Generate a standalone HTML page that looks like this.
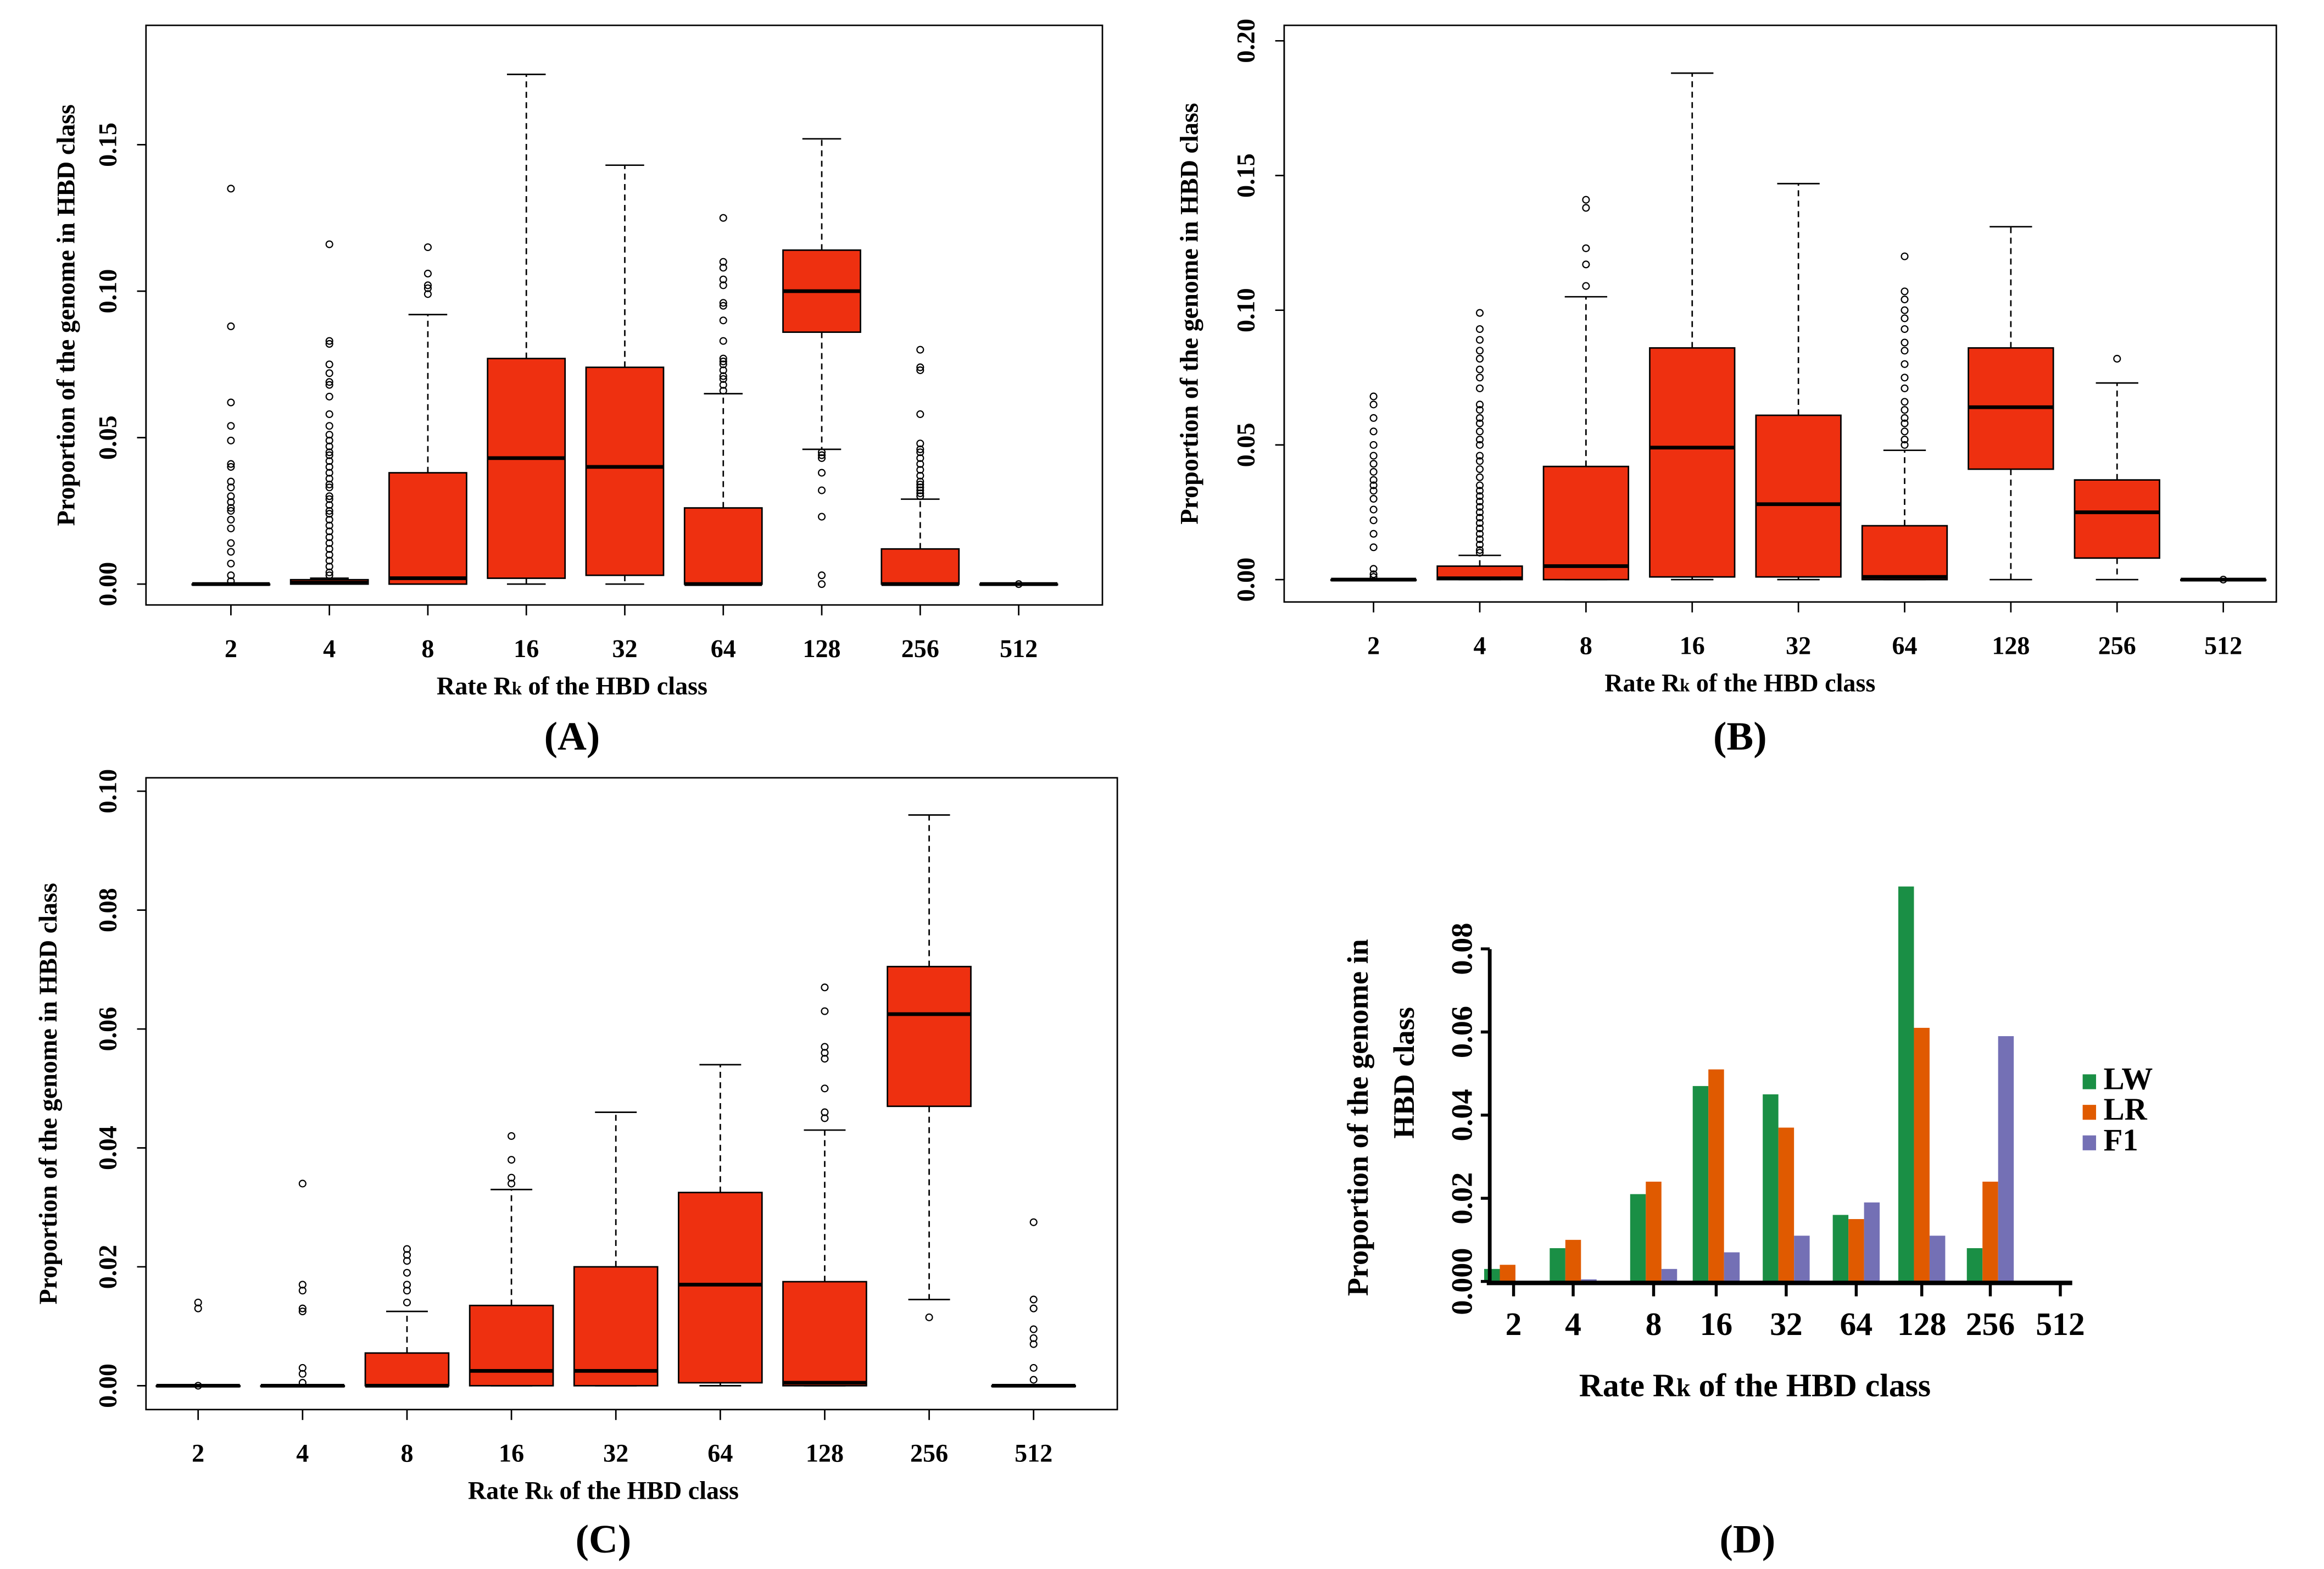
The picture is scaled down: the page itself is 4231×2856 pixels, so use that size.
<!DOCTYPE html>
<html><head><meta charset="utf-8"><style>
html,body{margin:0;padding:0;background:#fff;}
svg{display:block;}
text{font-family:"Liberation Serif",serif;font-weight:bold;fill:#000;}
</style></head><body>
<svg id="fig" width="4231" height="2856" viewBox="0 0 1560 1053" preserveAspectRatio="none" xmlns="http://www.w3.org/2000/svg"></svg>
<script>
const categories = ["2","4","8","16","32","64","128","256","512"];
// Panel A: [lo, q1, med, q3, hi]
const statsA = [[0,0,0,0,0],[0,0,0.0005,0.0015,0.002],[0,0,0.002,0.038,0.092],[0,0.002,0.043,0.077,0.174],[0,0.003,0.040,0.074,0.143],[0,0,0,0.026,0.065],[0.046,0.086,0.100,0.114,0.152],[0,0,0,0.012,0.029],[0,0,0,0,0]];
const outA = [[0.135,0.088,0.062,0.054,0.049,0.041,0.040,0.035,0.033,0.030,0.028,0.026,0.025,0.022,0.019,0.014,0.011,0.007,0.003,0.001],
[0.116,0.083,0.082,0.075,0.072,0.069,0.068,0.064,0.058,0.054,0.051,0.049,0.047,0.045,0.044,0.042,0.040,0.038,0.036,0.034,0.033,0.030,0.029,0.027,0.025,0.024,0.022,0.020,0.018,0.016,0.014,0.012,0.010,0.008,0.006,0.004,0.003],
[0.115,0.106,0.102,0.101,0.099],[],[],[0.125,0.110,0.108,0.104,0.102,0.096,0.095,0.090,0.083,0.077,0.076,0.075,0.073,0.071,0.070,0.068,0.066],
[0.045,0.044,0.043,0.038,0.032,0.023,0.003,0],[0.080,0.074,0.073,0.058,0.048,0.046,0.045,0.043,0.041,0.039,0.037,0.035,0.034,0.033,0.032,0.031,0.030],[0]];
const ticksA = [0,0.05,0.10,0.15];
const tickLabelsA = ["0.00","0.05","0.10","0.15"];
// Panel B
const statsB = [[0,0,0,0,0],[0,0,0.0005,0.005,0.009],[0,0,0.005,0.042,0.105],[0,0.001,0.049,0.086,0.188],[0,0.001,0.028,0.061,0.147],[0,0,0.001,0.020,0.048],[0,0.041,0.064,0.086,0.131],[0,0.008,0.025,0.037,0.073],[0,0,0,0,0]];
const outB = [[0.068,0.065,0.060,0.055,0.050,0.046,0.043,0.040,0.037,0.035,0.033,0.030,0.026,0.022,0.017,0.012,0.004,0.002,0.001],
[0.099,0.093,0.089,0.085,0.082,0.078,0.075,0.071,0.065,0.063,0.060,0.058,0.055,0.052,0.050,0.046,0.044,0.041,0.038,0.035,0.033,0.031,0.029,0.027,0.025,0.023,0.021,0.019,0.017,0.015,0.013,0.011,0.010],
[0.141,0.138,0.123,0.117,0.109],[],[],[0.120,0.107,0.104,0.100,0.097,0.093,0.088,0.085,0.080,0.075,0.071,0.066,0.063,0.060,0.058,0.055,0.052,0.050],[],[0.082],[0]];
const ticksB = [0,0.05,0.10,0.15,0.20];
const tickLabelsB = ["0.00","0.05","0.10","0.15","0.20"];
// Panel C
const statsC = [[0,0,0,0,0],[0,0,0,0,0],[0,0,0,0.0055,0.0125],[0,0,0.0025,0.0135,0.033],[0,0,0.0025,0.020,0.046],[0,0.0005,0.017,0.0325,0.054],[0,0,0.0005,0.0175,0.043],[0.0145,0.047,0.0625,0.0705,0.096],[0,0,0,0,0]];
const outC = [[0.014,0.013,0],[0.034,0.017,0.016,0.013,0.0125,0.003,0.002,0.0005],[0.023,0.022,0.021,0.019,0.017,0.016,0.014],[0.042,0.038,0.035,0.034],[],[],[0.067,0.063,0.057,0.056,0.055,0.050,0.046,0.045],[0.0115],[0.0275,0.0145,0.013,0.0095,0.008,0.007,0.003,0.001]];
const ticksC = [0,0.02,0.04,0.06,0.08,0.10];
const tickLabelsC = ["0.00","0.02","0.04","0.06","0.08","0.10"];
// Panel D
const seriesNames = ["LW","LR","F1"];
const valuesLW = [0.003,0.008,0.021,0.047,0.045,0.016,0.095,0.008,0];
const valuesLR = [0.004,0.010,0.024,0.051,0.037,0.015,0.061,0.024,0];
const valuesF1 = [0,0.0005,0.003,0.007,0.011,0.019,0.011,0.059,0];
const ticksD = [0,0.02,0.04,0.06,0.08];
const tickLabelsD = ["0.000","0.02","0.04","0.06","0.08"];

const NS="http://www.w3.org/2000/svg";
const svg=document.getElementById('fig');
function mk(tag,attrs,parent){const e=document.createElementNS(NS,tag);for(const k in attrs)e.setAttribute(k,attrs[k]);(parent||svg).appendChild(e);return e;}

function boxPanel(cfg,stats,outs,ticks,tickLabels,name){
  const g=mk('g',{});
  
  
  const y=v=>cfg.y0-(v/cfg.unit)*cfg.unitPx;
  const x=i=>cfg.x0+i*cfg.dx;
  const frame=mk('rect',{x:cfg.L,y:cfg.T,width:cfg.R-cfg.L,height:cfg.B-cfg.T,fill:'none',stroke:'#000','stroke-width':1},g);
  
  
  ticks.forEach((t,i)=>{
    mk('line',{x1:cfg.L,x2:cfg.L-6,y1:y(t),y2:y(t),stroke:'#000'},g);
    const tx=mk('text',{x:cfg.L-20,y:y(t),'font-size':17,'text-anchor':'middle',transform:`rotate(-90 ${cfg.L-20} ${y(t)})`},g);
    tx.textContent=tickLabels[i];
    
    
  });
  mk('line',{x1:cfg.L,x2:cfg.L,y1:y(ticks[0]),y2:y(ticks[ticks.length-1]),stroke:'#000'},g);
  categories.forEach((c,i)=>{
    mk('line',{x1:x(i),x2:x(i),y1:cfg.B,y2:cfg.B+7,stroke:'#000'},g);
    const tx=mk('text',{x:x(i),y:cfg.B+35,'font-size':17,'text-anchor':'middle'},g);
    tx.textContent=c;
    
    
    const s=stats[i],w=cfg.bw;
    const bg=mk('g',{},g);
    
    
    mk('line',{x1:x(i),x2:x(i),y1:y(s[3]),y2:y(s[4]),stroke:'#000','stroke-dasharray':'4,3'},bg);
    mk('line',{x1:x(i),x2:x(i),y1:y(s[1]),y2:y(s[0]),stroke:'#000','stroke-dasharray':'4,3'},bg);
    mk('line',{x1:x(i)-w/4,x2:x(i)+w/4,y1:y(s[4]),y2:y(s[4]),stroke:'#000'},bg);
    mk('line',{x1:x(i)-w/4,x2:x(i)+w/4,y1:y(s[0]),y2:y(s[0]),stroke:'#000'},bg);
    mk('rect',{x:x(i)-w/2,y:y(s[3]),width:w,height:Math.max(0.5,y(s[1])-y(s[3])),fill:'#ee3010',stroke:'#000','stroke-width':1},bg);
    mk('line',{x1:x(i)-w/2,x2:x(i)+w/2,y1:y(s[2]),y2:y(s[2]),stroke:'#000','stroke-width':2.5},bg);
    outs[i].forEach(o=>{
      const ci=mk('circle',{cx:x(i),cy:y(o),r:2.2,fill:'none',stroke:'#000','stroke-width':0.8},bg);
      
      
    });
  });
  const yt=mk('text',{x:cfg.ytx,y:(cfg.T+cfg.B)/2,'font-size':17,'text-anchor':'middle',transform:`rotate(-90 ${cfg.ytx} ${(cfg.T+cfg.B)/2})`},g);
  yt.textContent='Proportion of the genome in HBD class';
  
  
  const xt=mk('text',{x:cfg.xtx,y:cfg.B+60,'font-size':17,'text-anchor':'middle'},g);
  xt.innerHTML='Rate R<tspan font-size="12">k</tspan> of the HBD class';
  
  
  const pl=mk('text',{x:cfg.xtx,y:cfg.ply,'font-size':27,'font-weight':'normal','text-anchor':'middle'},g);
  pl.innerHTML='(<tspan font-weight="bold">'+cfg.label+'</tspan>)';
  
  
}
boxPanel({L:98,R:740,T:17,B:406,y0:392,unit:0.05,unitPx:98.3,x0:155,dx:66.1,bw:52,ytx:50,xtx:384,ply:503,label:'A'},statsA,outA,ticksA,tickLabelsA,'panel-a');
boxPanel({L:862,R:1528,T:17,B:404,y0:389,unit:0.05,unitPx:90.4,x0:922,dx:71.3,bw:57,ytx:804,xtx:1168,ply:503,label:'B'},statsB,outB,ticksB,tickLabelsB,'panel-b');
boxPanel({L:98,R:750,T:522,B:946,y0:930,unit:0.02,unitPx:79.8,x0:133,dx:70.1,bw:56,ytx:38,xtx:405,ply:1042,label:'C'},statsC,outC,ticksC,tickLabelsC,'panel-c');

// Panel D
(function(){
  const g=mk('g',{});
  
  
  const y0=860, unitPx=55.8/0.02;
  const y=v=>y0-v*unitPx;
  const xt=[1016,1056,1110,1152,1199,1246,1290,1336,1383];
  const cols=['#1a8f45','#e05a00','#7470b5'];
  const series=[valuesLW,valuesLR,valuesF1];
  const bw=10.5;
  series.forEach((vals,si)=>{
    vals.forEach((v,i)=>{
      if(v<=0) return;
      const r=mk('rect',{x:xt[i]-bw*1.5+si*bw-(i===0?4:0),y:y(v),width:bw,height:y0-y(v),fill:cols[si]},g);
      
      
    });
  });
  mk('line',{x1:1000,x2:1000,y1:637,y2:862,stroke:'#000','stroke-width':2.5},g);
  mk('line',{x1:998,x2:1391,y1:861,y2:861,stroke:'#000','stroke-width':3},g);
  ticksD.forEach((t,i)=>{
    mk('line',{x1:994,x2:1000,y1:y(t),y2:y(t),stroke:'#000','stroke-width':2},g);
    const tx=mk('text',{x:988,y:y(t),'font-size':20,'text-anchor':'middle',fill:'#a04000',transform:`rotate(-90 988 ${y(t)})`},g);
    tx.textContent=tickLabelsD[i];
    
    
  });
  categories.forEach((c,i)=>{
    mk('line',{x1:xt[i],x2:xt[i],y1:861,y2:870,stroke:'#000','stroke-width':2},g);
    const tx=mk('text',{x:xt[i],y:896,'font-size':22,'text-anchor':'middle'},g);
    tx.textContent=c;
    
    
  });
  const t1=mk('text',{x:918,y:750,'font-size':20,'text-anchor':'middle',fill:'#2a1a00',transform:'rotate(-90 918 750)'},g);
  t1.textContent='Proportion of the genome in';
  
  
  const t2=mk('text',{x:949,y:720,'font-size':20,'text-anchor':'middle',fill:'#2a1a00',transform:'rotate(-90 949 720)'},g);
  t2.textContent='HBD class';
  
  
  const xa=mk('text',{x:1178,y:937,'font-size':22,'text-anchor':'middle'},g);
  xa.innerHTML='Rate R<tspan font-size="17">k</tspan> of the HBD class';
  
  
  seriesNames.forEach((n,i)=>{
    const lg=mk('g',{},g);
    
    
    mk('rect',{x:1398,y:721+i*20.5,width:9,height:10,fill:cols[i]},lg);
    const tx=mk('text',{x:1412,y:731+i*20.5,'font-size':21},lg);
    tx.textContent=n;
  });
  const pl=mk('text',{x:1173,y:1042,'font-size':27,'font-weight':'normal','text-anchor':'middle'},g);
  pl.innerHTML='(<tspan font-weight="bold">D</tspan>)';
  
  
})();
</script>
</body></html>
